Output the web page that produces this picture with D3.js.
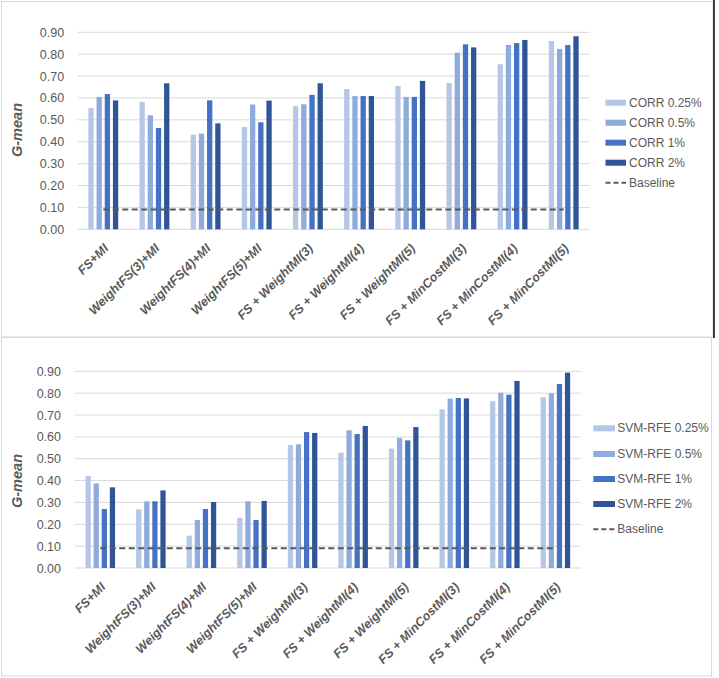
<!DOCTYPE html>
<html>
<head>
<meta charset="utf-8">
<script src="https://cdn.jsdelivr.net/npm/d3@7"></script>
<style>
  html, body { margin: 0; padding: 0; background: #fff; }
  svg { display: block; font-family: "Liberation Sans", Arial, sans-serif; }
</style>
</head>
<body>
<svg id="chart" width="719" height="678"></svg>
<script>
// ---- data ----
const categories = ["FS+MI", "WeightFS(3)+MI", "WeightFS(4)+MI", "WeightFS(5)+MI",
  "FS + WeightMI(3)", "FS + WeightMI(4)", "FS + WeightMI(5)",
  "FS + MinCostMI(3)", "FS + MinCostMI(4)", "FS + MinCostMI(5)"];
const yTicks = [0, 0.1, 0.2, 0.3, 0.4, 0.5, 0.6, 0.7, 0.8, 0.9];

const corrNames = ["CORR 0.25%", "CORR 0.5%", "CORR 1%", "CORR 2%"];
const corr025 = [0.554, 0.582, 0.432, 0.467, 0.563, 0.641, 0.655, 0.668, 0.754, 0.860];
const corr05  = [0.605, 0.521, 0.437, 0.570, 0.571, 0.609, 0.605, 0.807, 0.842, 0.824];
const corr1   = [0.618, 0.463, 0.589, 0.489, 0.614, 0.609, 0.605, 0.845, 0.851, 0.842];
const corr2   = [0.589, 0.667, 0.484, 0.588, 0.667, 0.609, 0.678, 0.831, 0.865, 0.882];
const corrBaseline = [0.09, 0.09, 0.09, 0.09, 0.09, 0.09, 0.09, 0.09, 0.09, 0.09];

const svmNames = ["SVM-RFE 0.25%", "SVM-RFE 0.5%", "SVM-RFE 1%", "SVM-RFE 2%"];
const svm025 = [0.421, 0.268, 0.148, 0.230, 0.563, 0.528, 0.546, 0.726, 0.763, 0.781];
const svm05  = [0.387, 0.305, 0.220, 0.305, 0.566, 0.630, 0.595, 0.775, 0.802, 0.799];
const svm1   = [0.270, 0.305, 0.270, 0.220, 0.622, 0.613, 0.584, 0.778, 0.793, 0.842];
const svm2   = [0.369, 0.355, 0.302, 0.307, 0.618, 0.650, 0.645, 0.776, 0.856, 0.894];
const svmBaseline = [0.09, 0.09, 0.09, 0.09, 0.09, 0.09, 0.09, 0.09, 0.09, 0.09];

const baselineName = "Baseline";
const yTitle = "G-mean";

// ---- style ----
const colors = ["#b4c7e7", "#8faadc", "#4472c4", "#2f5597"];
const textColor = "#595959";
const gridColor = "#d9d9d9";

const svg = d3.select("#chart");
svg.append("rect").attr("width", 719).attr("height", 678).attr("fill", "#fff");

// frames
svg.append("rect").attr("x", 1.5).attr("y", 1.5).attr("width", 711.5).attr("height", 335.5)
  .attr("fill", "none").attr("stroke", "#d9d9d9");
svg.append("rect").attr("x", 1.5).attr("y", 337.5).attr("width", 710).attr("height", 338.5)
  .attr("fill", "none").attr("stroke", "#d9d9d9");
svg.append("line").attr("x1", 714).attr("x2", 714).attr("y1", 0).attr("y2", 338)
  .attr("stroke", "#000").attr("stroke-width", 1.5);

function drawChart(cfg) {
  const g = svg.append("g");
  const x = d3.scaleBand().domain(categories).range([cfg.x0, cfg.x1]).padding(0);
  const y = d3.scaleLinear().domain([0, 0.9]).range([cfg.yBottom, cfg.yTop]);
  const bw = x.bandwidth();
  const xs = d3.scaleBand().domain(cfg.names)
    .range([bw * 0.208, bw * 0.792]).paddingInner(0.354).paddingOuter(0);

  // gridlines
  g.append("g").selectAll("line").data(yTicks).join("line")
    .attr("x1", cfg.x0).attr("x2", cfg.x1)
    .attr("y1", d => y(d)).attr("y2", d => y(d))
    .attr("stroke", gridColor).attr("stroke-width", 1);

  // y axis labels
  const ya = g.append("g").attr("transform", `translate(${cfg.x0},0)`)
    .call(d3.axisLeft(y).tickValues(yTicks).tickFormat(d3.format(".2f")).tickSize(0).tickPadding(cfg.tickPad));
  ya.select(".domain").remove();
  ya.selectAll("text").attr("fill", textColor).attr("font-size", "12.5px")
    .attr("font-family", '"Liberation Sans", Arial, sans-serif');

  // y title
  g.append("text").attr("transform", `translate(${cfg.titleX},${cfg.titleY}) rotate(-90)`)
    .attr("text-anchor", "middle").attr("dominant-baseline", "central")
    .attr("font-size", "14.5px").attr("font-weight", "bold").attr("font-style", "italic")
    .attr("fill", textColor).text(yTitle);

  // bars
  const seriesData = cfg.series.map((vals, i) => ({ name: cfg.names[i], vals, color: colors[i] }));
  seriesData.forEach(s => {
    g.append("g").selectAll("rect").data(categories).join("rect")
      .attr("x", (c) => x(c) + xs(s.name))
      .attr("width", xs.bandwidth())
      .attr("y", (c, i) => y(s.vals[i]))
      .attr("height", (c, i) => y(0) - y(s.vals[i]))
      .attr("fill", s.color);
  });

  // baseline
  const line = d3.line().x((d, i) => x(categories[i]) + bw / 2).y(d => y(d));
  g.append("path").datum(cfg.baseline).attr("d", line)
    .attr("fill", "none").attr("stroke", textColor).attr("stroke-width", 2)
    .attr("stroke-dasharray", "6,3.5");

  // category labels
  g.append("g").selectAll("text").data(categories).join("text")
    .attr("transform", c => `translate(${x(c) + bw / 2 + 3},${cfg.yBottom + 17}) rotate(-45)`)
    .attr("text-anchor", "end").attr("dominant-baseline", "central")
    .attr("font-size", "12.5px").attr("font-weight", "bold").attr("font-style", "italic")
    .attr("fill", textColor).text(c => c);

  // legend
  const lg = g.append("g");
  cfg.names.forEach((n, i) => {
    const yy = cfg.legY[i];
    lg.append("rect").attr("x", cfg.legX).attr("y", yy - 3).attr("width", cfg.swW).attr("height", 6)
      .attr("fill", colors[i]);
    lg.append("text").attr("x", cfg.legTextX).attr("y", yy).attr("dominant-baseline", "central")
      .attr("font-size", "12px").attr("fill", textColor).text(n);
  });
  const yb = cfg.legY[4];
  lg.append("line").attr("x1", cfg.legX).attr("x2", cfg.legX + cfg.swW).attr("y1", yb).attr("y2", yb)
    .attr("stroke", textColor).attr("stroke-width", 2).attr("stroke-dasharray", "5,3");
  lg.append("text").attr("x", cfg.legTextX).attr("y", yb).attr("dominant-baseline", "central")
    .attr("font-size", "12px").attr("fill", textColor).text(baselineName);
}

drawChart({
  x0: 77.7, x1: 589.3, yTop: 32.3, yBottom: 229.3, tickPad: 13.5,
  titleX: 17, titleY: 130,
  names: corrNames, series: [corr025, corr05, corr1, corr2], baseline: corrBaseline,
  legX: 605.5, swW: 20.5, legTextX: 629, legY: [102.7, 122.7, 142.7, 162.7, 182.7]
});

drawChart({
  x0: 75, x1: 580.7, yTop: 371.3, yBottom: 568, tickPad: 14,
  titleX: 17, titleY: 481,
  names: svmNames, series: [svm025, svm05, svm1, svm2], baseline: svmBaseline,
  legX: 593.3, swW: 21.7, legTextX: 617.3, legY: [428.3, 454, 479, 504, 529.3]
});
</script>
</body>
</html>
